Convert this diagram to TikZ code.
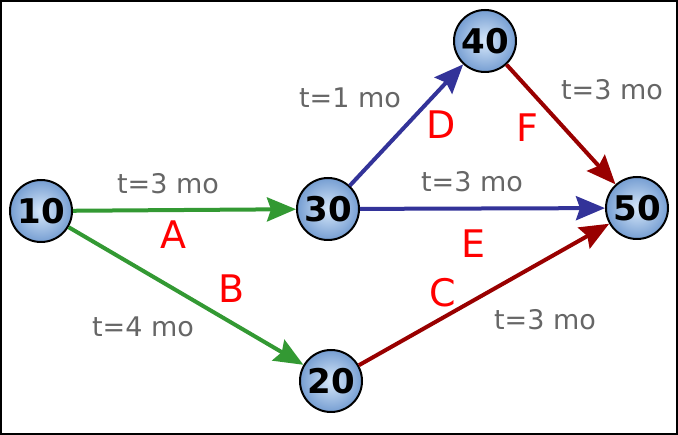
\documentclass[tikz,border=0pt]{standalone}
\usepackage{fontspec}
\setmainfont{DejaVu Sans}
\usetikzlibrary{arrows.meta}

\definecolor{actgreen}{RGB}{51,153,51}
\definecolor{actblue}{RGB}{51,51,153}
\definecolor{actred}{RGB}{153,0,0}
\definecolor{durgray}{RGB}{102,102,102}
\definecolor{evlight}{RGB}{215,232,250}
\definecolor{evdark}{RGB}{118,158,210}

\begin{document}
\begin{tikzpicture}[x=1pt, y=-1pt, >={Stealth[length=29pt,width=24pt,inset=4pt]},
	event/.style={circle, draw=black, line width=2pt, minimum size=62pt, inner sep=0pt,
		inner color=evlight, outer color=evdark, font=\fontsize{34}{34}\selectfont\bfseries},
	activity/.style={line width=4pt, ->},
	dur/.style={text=durgray, font=\fontsize{27}{27}\selectfont},
	act/.style={text=red, font=\fontsize{38}{38}\selectfont}]
	
	% frame
	\useasboundingbox (0,0) rectangle (678,435);
	\draw[line width=2pt] (1,1) rectangle (677,434);
	
	% events
	\node[event] (n10) at (41,211) {10};
	\node[event] (n30) at (328,209) {30};
	\node[event] (n40) at (485,41) {40};
	\node[event] (n50) at (637,208) {50};
	\node[event] (n20) at (331,381) {20};
	
	% activities
	\draw[activity, actgreen] (n10) -- (n30);
	\draw[activity, actgreen] (n10) -- (n20);
	\draw[activity, actblue] (n30) -- (n40);
	\draw[activity, actblue] (n30) -- (n50);
	\draw[activity, actred] (n40) -- (n50);
	\draw[activity, actred] (n20) -- (n50);
	
	% durations
	\node[dur] (tA) at (168,184) {t=3 mo};
	\node[dur] (tB) at (143,327) {t=4 mo};
	\node[dur] (tD) at (350,98) {t=1 mo};
	\node[dur] (tF) at (612,90) {t=3 mo};
	\node[dur] (tE) at (472,182) {t=3 mo};
	\node[dur] (tC) at (545,320) {t=3 mo};
	
	% activity names
	\node[act] (lA) at (173,235) {A};
	\node[act] (lB) at (232,289) {B};
	\node[act] (lD) at (441,125) {D};
	\node[act] (lF) at (527,128) {F};
	\node[act] (lE) at (474,244) {E};
	\node[act] (lC) at (443,293) {C};
\end{tikzpicture}
\end{document}
